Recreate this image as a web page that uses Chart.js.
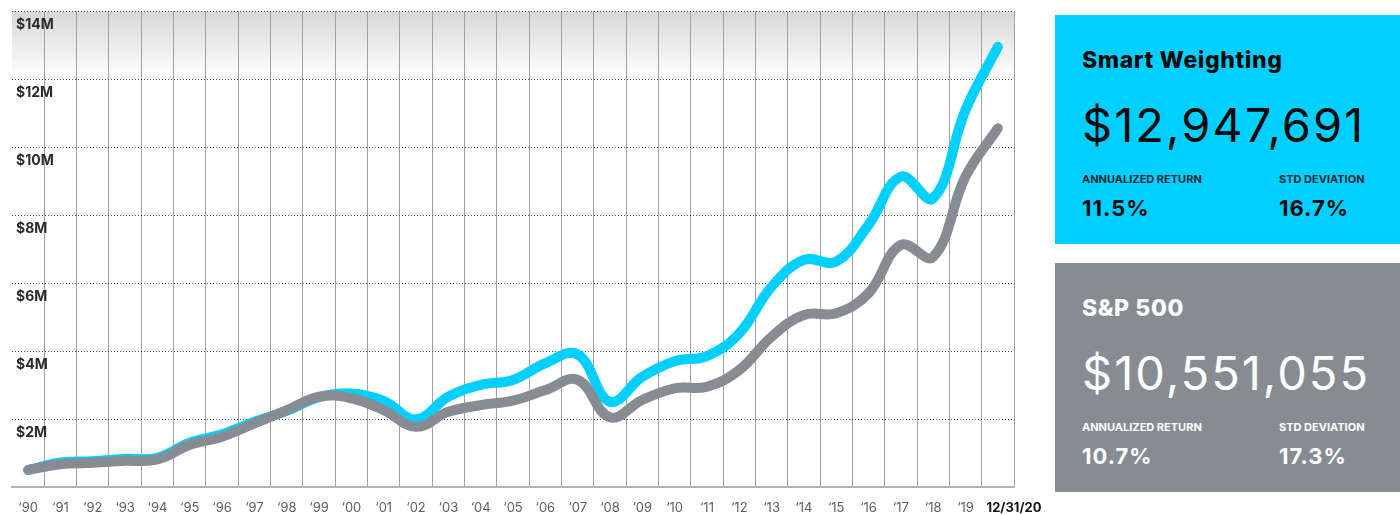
<!DOCTYPE html>
<html>
<head>
<meta charset="utf-8">
<script src="https://cdn.jsdelivr.net/npm/chart.js"></script>
<style>
  html, body { margin: 0; padding: 0; background: #fff; }
  body { width: 1400px; height: 515px; position: relative; overflow: hidden; font-family: Inter, "Noto Sans", sans-serif; }
  #wrap { position: absolute; left: 0; top: 0; width: 1052px; height: 515px; }
  .panel { position: absolute; left: 1055px; width: 345px; height: 229px; }
  .panel div { position: absolute; left: 27px; white-space: nowrap; }
  .smart { top: 15px; background: #00cfff; color: #0a0a0a; }
  .spx { top: 263px; background: #878c93; color: #fff; }
  .ttl { top: 30px; font-size: 23px; line-height: 30px; font-weight: 800; letter-spacing: 0.6px; }
  .big { top: 84px; font-size: 47px; line-height: 52px; font-weight: 400; letter-spacing: 2px; }
  .sub { top: 157px; font-size: 11px; line-height: 14px; font-weight: 700; }
  .pct { top: 180px; font-size: 22px; line-height: 26px; font-weight: 700; letter-spacing: 1px; }
  .col2 { left: 224px !important; }
  .smart .sub { color: #1d2a33; }
</style>
</head>
<body>
<div id="wrap"><canvas id="c"></canvas></div>

<div class="panel smart">
  <div class="ttl">Smart Weighting</div>
  <div class="big">$12,947,691</div>
  <div class="sub">ANNUALIZED RETURN</div>
  <div class="sub col2">STD DEVIATION</div>
  <div class="pct">11.5%</div>
  <div class="pct col2">16.7%</div>
</div>
<div class="panel spx">
  <div class="ttl">S&amp;P 500</div>
  <div class="big">$10,551,055</div>
  <div class="sub">ANNUALIZED RETURN</div>
  <div class="sub col2">STD DEVIATION</div>
  <div class="pct">10.7%</div>
  <div class="pct col2">17.3%</div>
</div>

<script>
// growth of $500k, values in $M
const years = ["‘90","‘91","‘92","‘93","‘94","‘95","‘96","‘97","‘98","‘99",
  "‘00","‘01","‘02","‘03","‘04","‘05","‘06","‘07","‘08","‘09",
  "‘10","‘11","‘12","‘13","‘14","‘15","‘16","‘17","‘18","‘19","12/31/20"];
const smartWeighting = [0.5,0.72,0.76,0.83,0.86,1.30,1.55,1.92,2.24,2.64,
  2.75,2.53,1.99,2.66,3.00,3.15,3.64,3.90,2.51,3.24,
  3.70,3.85,4.52,5.89,6.68,6.63,7.71,9.13,8.49,11.09,12.95];
const sp500 = [0.5,0.67,0.71,0.77,0.81,1.24,1.48,1.87,2.26,2.66,
  2.61,2.26,1.77,2.21,2.41,2.54,2.85,3.15,2.05,2.56,
  2.90,2.95,3.44,4.42,5.06,5.11,5.70,7.12,6.77,9.13,10.55];
const yTicks = [2, 4, 6, 8, 10, 12, 14];

const CYAN = "#00cfff";
const GRAY = "#878c93";

// gradient band + axis labels drawn against the chart scales
const decor = {
  id: "decor",
  beforeDraw(chart) {
    const { ctx, chartArea: a, scales: { y } } = chart;
    const top = y.getPixelForValue(yTicks[yTicks.length - 1]);
    const bot = y.getPixelForValue(yTicks[yTicks.length - 2]);
    const g = ctx.createLinearGradient(0, top, 0, bot);
    g.addColorStop(0, "#d7d7d7");
    g.addColorStop(1, "#ffffff");
    ctx.save();
    ctx.fillStyle = g;
    ctx.fillRect(a.left, top, a.right - a.left, bot - top);
    ctx.restore();
  },
  beforeDatasetsDraw(chart) {
    const { ctx, chartArea: a, scales: { x, y } } = chart;
    ctx.save();
    ctx.font = "bold 14px Inter";
    ctx.fillStyle = "#2b2b2b";
    ctx.textAlign = "left";
    ctx.textBaseline = "middle";
    yTicks.forEach(v => ctx.fillText("$" + v + "M", a.left + 4, y.getPixelForValue(v) + 14));

    ctx.textAlign = "center";
    years.forEach((lab, i) => {
      const last = i === years.length - 1;
      ctx.font = last ? "bold 13px Inter" : "13px Inter";
      ctx.fillStyle = last ? "#111" : "#5a5f66";
      ctx.fillText(lab, last ? a.right : x.getPixelForValue(i), a.bottom + 21);
    });
    ctx.restore();
  }
};

new Chart(document.getElementById("c"), {
  type: "line",
  data: {
    labels: years,
    datasets: [
      { label: "Smart Weighting", data: smartWeighting, borderColor: CYAN, order: 1 },
      { label: "S&P 500", data: sp500, borderColor: GRAY, order: 0 }
    ]
  },
  options: {
    responsive: true,
    maintainAspectRatio: false,
    animation: false,
    layout: { padding: { left: 12, top: 11, right: 38, bottom: 28 } },
    elements: {
      line: { borderWidth: 10, tension: 0.4, borderCapStyle: "round", borderJoinStyle: "round", fill: false },
      point: { radius: 0 }
    },
    plugins: { legend: { display: false }, tooltip: { enabled: false } },
    scales: {
      x: {
        offset: true,
        grid: {
          offset: true,
          drawTicks: false,
          color: c => (c.index === 0 ? "rgba(0,0,0,0)" : "#a0a0a0"),
          lineWidth: 1
        },
        border: { display: true, color: "#b4b4b4", width: 2 },
        ticks: { display: false }
      },
      y: {
        min: 0,
        max: 14,
        ticks: { display: false, stepSize: 2 },
        grid: {
          drawTicks: false,
          color: c => (c.tick && c.tick.value === 0 ? "rgba(0,0,0,0)" : "#4a4a4a"),
          lineWidth: 1
        },
        border: { display: false, dash: [1, 2] }
      }
    }
  },
  plugins: [decor]
});
</script>
</body>
</html>
